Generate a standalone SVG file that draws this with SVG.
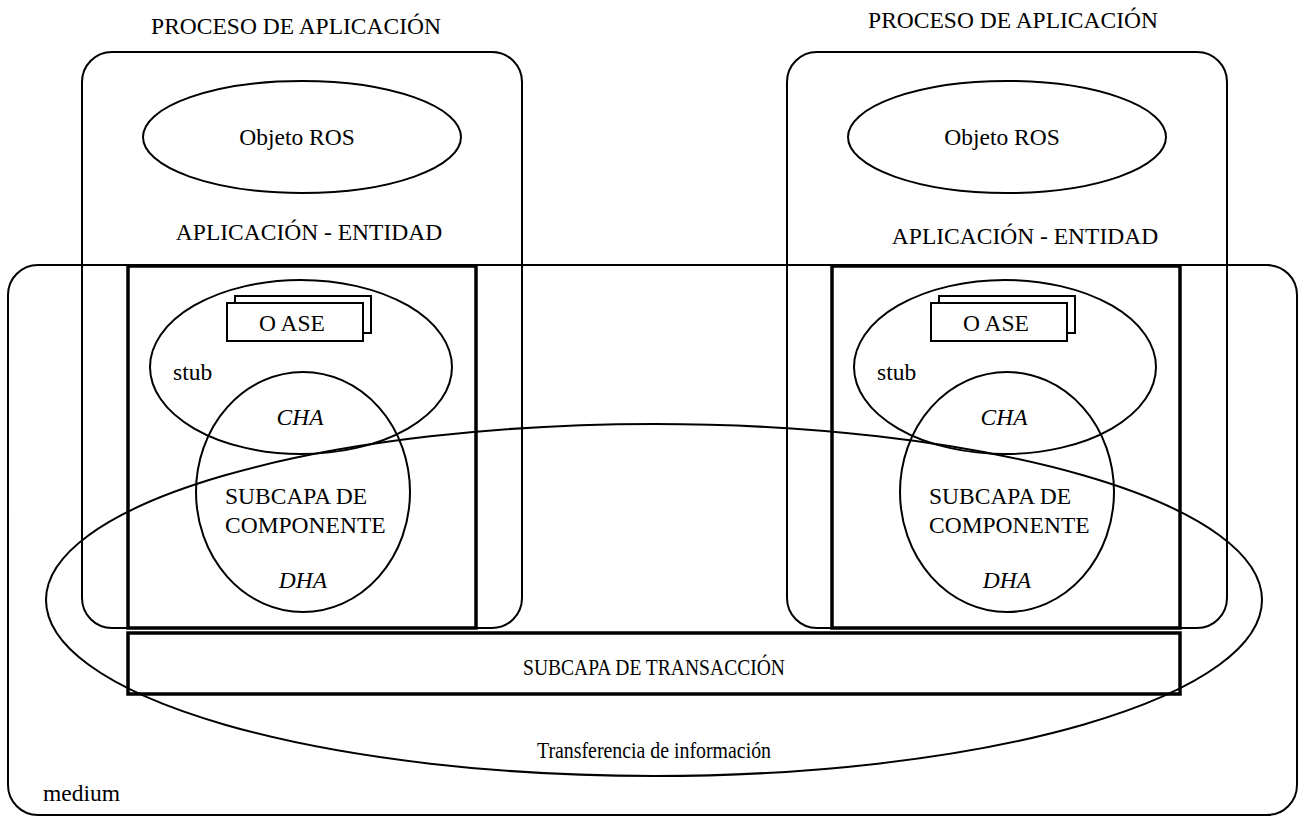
<svg xmlns="http://www.w3.org/2000/svg" width="1302" height="822" viewBox="0 0 1302 822">
<style>
.ln{fill:none;stroke:#000;stroke-width:2}
.th{fill:none;stroke:#000;stroke-width:3.5}
.bx{fill:#fff;stroke:#000;stroke-width:2}
text{font-family:"Liberation Serif","Times New Roman",serif;font-size:23.5px;fill:#000;text-anchor:middle}
.it{font-style:italic}
.l{text-anchor:start}
</style>
<rect width="1302" height="822" fill="#fff"/>
<g id="proc-left"><rect class="ln" x="82" y="52" width="440" height="576" rx="30"/>
<text x="296" y="34">PROCESO DE APLICACIÓN</text></g>
<g id="proc-right"><rect class="ln" x="787" y="52" width="440" height="576" rx="30"/>
<text x="1013" y="28">PROCESO DE APLICACIÓN</text></g>
<g id="medium"><rect class="ln" x="8" y="265" width="1289" height="550" rx="30"/>
<text class="l" x="43" y="801">medium</text></g>
<g id="transfer"><ellipse class="ln" cx="654" cy="600" rx="608" ry="176"/>
<text x="654" y="758" textLength="234" lengthAdjust="spacingAndGlyphs">Transferencia de información</text></g>
<g id="ros-left"><ellipse class="ln" cx="302" cy="137" rx="159" ry="56"/><text x="297" y="145">Objeto ROS</text></g>
<g id="ros-right"><ellipse class="ln" cx="1007" cy="137" rx="159" ry="56"/><text x="1002" y="145">Objeto ROS</text></g>
<g id="ae-left-label"><text x="309" y="240">APLICACIÓN - ENTIDAD</text></g>
<g id="ae-right-label"><text x="1025" y="244">APLICACIÓN - ENTIDAD</text></g>
<g id="ae-left"><rect class="th" x="128" y="266" width="348" height="362"/>
<ellipse class="ln" cx="301" cy="367" rx="151" ry="87"/>
<ellipse class="ln" cx="303" cy="492" rx="107" ry="120"/>
<rect class="bx" x="235" y="296" width="136" height="37"/>
<rect class="bx" x="227" y="303" width="136" height="38"/>
<text x="292" y="331">O ASE</text>
<text class="l" x="173" y="380">stub</text>
<text class="it" x="300" y="425">CHA</text>
<text class="l" x="225" y="504">SUBCAPA DE</text>
<text class="l" x="225" y="533">COMPONENTE</text>
<text class="it" x="303" y="588">DHA</text></g>
<g id="ae-right"><rect class="th" x="832" y="266" width="348" height="362"/>
<ellipse class="ln" cx="1005" cy="367" rx="151" ry="87"/>
<ellipse class="ln" cx="1007" cy="492" rx="107" ry="120"/>
<rect class="bx" x="939" y="296" width="136" height="37"/>
<rect class="bx" x="931" y="303" width="136" height="38"/>
<text x="996" y="331">O ASE</text>
<text class="l" x="877" y="380">stub</text>
<text class="it" x="1004" y="425">CHA</text>
<text class="l" x="929" y="504">SUBCAPA DE</text>
<text class="l" x="929" y="533">COMPONENTE</text>
<text class="it" x="1007" y="588">DHA</text></g>
<g id="transaction"><rect class="th" x="128" y="633" width="1052" height="61"/>
<text x="654" y="675" textLength="262" lengthAdjust="spacingAndGlyphs">SUBCAPA DE TRANSACCIÓN</text></g>
<g id="connectors"></g>
</svg>
